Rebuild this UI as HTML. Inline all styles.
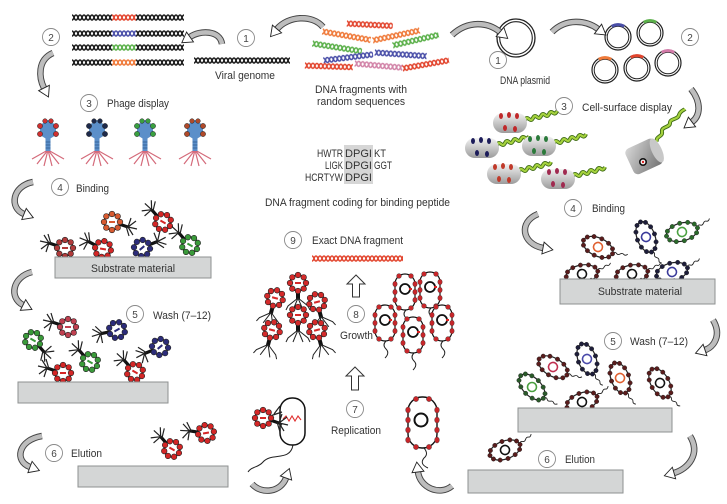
<!DOCTYPE html>
<html><head><meta charset="utf-8"><style>
html,body{margin:0;padding:0;background:#fff;}
svg{display:block;}
text{font-family:"Liberation Sans",sans-serif;fill:#333;}
.t{font-size:11px;}
.nc{fill:#fff;stroke:#8a8a8a;stroke-width:0.9;}
.nt{font-size:10px;text-anchor:middle;fill:#444;}
.ao{fill:none;stroke:#444;stroke-width:6.5;}
.ai{fill:none;stroke:#bdbdbd;stroke-width:4.6;}
.box{fill:#d4d6d6;stroke:#8e9090;stroke-width:1;}
</style></head><body>
<svg width="727" height="504" viewBox="0 0 727 504" xmlns="http://www.w3.org/2000/svg">
<defs>
<pattern id="hk" width="8" height="7" patternUnits="userSpaceOnUse"><path d="M0,1 C2.2,1 1.8,6 4,6 C6.2,6 5.8,1 8,1 M0,6 C2.2,6 1.8,1 4,1 C6.2,1 5.8,6 8,6" fill="none" stroke="#1a1a1a" stroke-width="1.6"/></pattern>
<pattern id="hr" width="8" height="7" patternUnits="userSpaceOnUse"><path d="M0,1 C2.2,1 1.8,6 4,6 C6.2,6 5.8,1 8,1 M0,6 C2.2,6 1.8,1 4,1 C6.2,1 5.8,6 8,6" fill="none" stroke="#e2452e" stroke-width="1.6"/></pattern>
<pattern id="hb" width="8" height="7" patternUnits="userSpaceOnUse"><path d="M0,1 C2.2,1 1.8,6 4,6 C6.2,6 5.8,1 8,1 M0,6 C2.2,6 1.8,1 4,1 C6.2,1 5.8,6 8,6" fill="none" stroke="#4a4fa8" stroke-width="1.6"/></pattern>
<pattern id="hg" width="8" height="7" patternUnits="userSpaceOnUse"><path d="M0,1 C2.2,1 1.8,6 4,6 C6.2,6 5.8,1 8,1 M0,6 C2.2,6 1.8,1 4,1 C6.2,1 5.8,6 8,6" fill="none" stroke="#5bb04a" stroke-width="1.6"/></pattern>
<pattern id="ho" width="8" height="7" patternUnits="userSpaceOnUse"><path d="M0,1 C2.2,1 1.8,6 4,6 C6.2,6 5.8,1 8,1 M0,6 C2.2,6 1.8,1 4,1 C6.2,1 5.8,6 8,6" fill="none" stroke="#ef7a3a" stroke-width="1.6"/></pattern>
<pattern id="hp" width="8" height="7" patternUnits="userSpaceOnUse"><path d="M0,1 C2.2,1 1.8,6 4,6 C6.2,6 5.8,1 8,1 M0,6 C2.2,6 1.8,1 4,1 C6.2,1 5.8,6 8,6" fill="none" stroke="#d284a8" stroke-width="1.6"/></pattern>
<linearGradient id="cg" x1="0" y1="0" x2="0" y2="1"><stop offset="0" stop-color="#f2f2f2"/><stop offset="1" stop-color="#9c9c9c"/></linearGradient>
<linearGradient id="cg2" x1="0" y1="0" x2="1" y2="1"><stop offset="0" stop-color="#d8d8d8"/><stop offset="1" stop-color="#707070"/></linearGradient>
<marker id="ah" markerWidth="14" markerHeight="14" refX="2" refY="7" orient="auto" markerUnits="userSpaceOnUse"><path d="M2,1 L12,7 L2,13 Z" fill="#fff" stroke="#222" stroke-width="0.9"/></marker>

<g id="pg">
 <path d="M-7,-2 L-16,-5" stroke="#111" stroke-width="3.2"/>
 <path d="M-16,-5 L-21,-13 M-14,-4 L-17,-14 M-16,-5 L-25,-7 M-16,-5 L-24,1 M-16,-5 L-19,4" stroke="#222" stroke-width="1.2" fill="none"/>
 <circle r="8" fill="#fff" stroke="#222" stroke-width="1.4"/>
 <g style="fill:currentColor" stroke="#222" stroke-width="0.6">
 <circle cx="8" cy="0" r="2.8"/><circle cx="5.7" cy="5.7" r="2.8"/><circle cx="0" cy="8" r="2.8"/><circle cx="-5.7" cy="5.7" r="2.8"/><circle cx="-8" cy="0" r="2.8"/><circle cx="-5.7" cy="-5.7" r="2.8"/><circle cx="0" cy="-8" r="2.8"/><circle cx="5.7" cy="-5.7" r="2.8"/>
 </g>
 <rect x="-3" y="-1" width="6" height="2" style="fill:currentColor"/>
</g>
<g id="pu">
 <rect x="-2" y="7" width="4" height="9" fill="#111"/>
 <path d="M0,15 L-10,23 L-12,27 M0,15 L-5,27 M0,15 L5,27 M0,15 L10,23 L12,27" stroke="#222" stroke-width="1" fill="none"/>
 <circle r="8" fill="#fff" stroke="#222" stroke-width="1.4"/>
 <g fill="#d42a2a" stroke="#222" stroke-width="0.6">
 <circle cx="8" cy="0" r="2.8"/><circle cx="5.7" cy="5.7" r="2.8"/><circle cx="0" cy="8" r="2.8"/><circle cx="-5.7" cy="5.7" r="2.8"/><circle cx="-8" cy="0" r="2.8"/><circle cx="-5.7" cy="-5.7" r="2.8"/><circle cx="0" cy="-8" r="2.8"/><circle cx="5.7" cy="-5.7" r="2.8"/>
 </g>
 <rect x="-3" y="-1" width="6" height="2" fill="#d42a2a"/>
</g>
<g id="pd">
 <path d="M0,20 L-16,29 M0,20 L-11,34 M0,20 L-4,36 M0,20 L4,36 M0,20 L11,34 M0,20 L16,29" stroke="#d46a7a" stroke-width="1.2" fill="none"/>
 <rect x="-2.5" y="8" width="5" height="13" fill="#5b8fc9"/>
 <path d="M-2.5,12 h5 M-2.5,15 h5 M-2.5,18 h5" stroke="#2d5a8a" stroke-width="0.7"/>
 <polygon points="0,-10 8,-5 8,5 0,10 -8,5 -8,-5" fill="#5b8fc9"/>
 <g style="fill:currentColor" stroke="#222" stroke-width="0.5">
 <circle cx="-8" cy="-4" r="2.6"/><circle cx="8" cy="-4" r="2.6"/><circle cx="-8" cy="4" r="2.6"/><circle cx="8" cy="4" r="2.6"/><circle cx="-3" cy="-9" r="2.3"/><circle cx="3" cy="-9" r="2.3"/>
 </g>
</g>
<g id="bc">
 <path d="M16,-1 c3,-4 4,2 7,-2 c3,-4 4,2 7,-3" fill="none" stroke="#222" stroke-width="0.9"/>
 <ellipse rx="16" ry="9" fill="#fff" stroke="#222" stroke-width="1.2"/>
 <g style="fill:var(--d,#5a1c1c)" stroke="#222" stroke-width="0.4">
 <circle cx="16" cy="0" r="2.2"/><circle cx="13.9" cy="4.5" r="2.2"/><circle cx="8" cy="7.8" r="2.2"/><circle cx="0" cy="9" r="2.2"/><circle cx="-8" cy="7.8" r="2.2"/><circle cx="-13.9" cy="4.5" r="2.2"/><circle cx="-16" cy="0" r="2.2"/><circle cx="-13.9" cy="-4.5" r="2.2"/><circle cx="-8" cy="-7.8" r="2.2"/><circle cx="0" cy="-9" r="2.2"/><circle cx="8" cy="-7.8" r="2.2"/><circle cx="13.9" cy="-4.5" r="2.2"/>
 </g>
 <circle r="4.5" fill="none" style="stroke:currentColor" stroke-width="1.6"/>
</g>
<g id="bv">
 <path d="M1,18 q-4,4 0,8 q4,4 -1,9" stroke="#222" fill="none" stroke-width="1"/>
 <rect x="-10" y="-18" width="20" height="36" rx="10" fill="#fff" stroke="#111" stroke-width="1.2"/>
 <g fill="#c8262a" stroke="#333" stroke-width="0.4">
 <ellipse cx="-10" cy="-8" rx="2.2" ry="2.8"/><ellipse cx="-10" cy="0" rx="2.2" ry="2.8"/><ellipse cx="-10" cy="8" rx="2.2" ry="2.8"/><ellipse cx="10" cy="-8" rx="2.2" ry="2.8"/><ellipse cx="10" cy="0" rx="2.2" ry="2.8"/><ellipse cx="10" cy="8" rx="2.2" ry="2.8"/><circle cx="-6" cy="-16" r="2.4"/><circle cx="6" cy="-16" r="2.4"/><circle cx="-6" cy="16" r="2.4"/><circle cx="6" cy="16" r="2.4"/>
 </g>
 <circle cy="-3" r="5" fill="none" stroke="#111" stroke-width="1.8"/>
 <rect x="4" y="-4" width="3" height="2" fill="#d22"/>
</g>
<g id="cs">
 <path d="M15,-3 c3,-6 5,4 8,-2 c3,-6 5,4 8,-2 c3,-6 5,4 8,-2 c3,-6 5,4 8,-3" fill="none" stroke="#3d6a14" stroke-width="4"/>
 <path d="M15,-3 c3,-6 5,4 8,-2 c3,-6 5,4 8,-2 c3,-6 5,4 8,-2 c3,-6 5,4 8,-3" fill="none" stroke="#a5d23e" stroke-width="2.2"/>
 <rect x="-17" y="-10" width="34" height="20" rx="10" fill="url(#cg)"/>
 <g style="fill:currentColor">
 <ellipse cx="-9" cy="-7" rx="2" ry="3"/><ellipse cx="-1" cy="-8" rx="2" ry="3"/><ellipse cx="7" cy="-7" rx="2" ry="3"/><ellipse cx="-5" cy="5" rx="2" ry="3"/><ellipse cx="5" cy="6" rx="2" ry="3"/>
 </g>
</g>
</defs>

<g transform="translate(72,14)"><rect width="40" height="7" fill="url(#hk)"/><rect x="40" width="24" height="7" fill="url(#hr)"/><rect x="64" width="48" height="7" fill="url(#hk)"/></g>
<g transform="translate(72,30)"><rect width="40" height="7" fill="url(#hk)"/><rect x="40" width="24" height="7" fill="url(#hb)"/><rect x="64" width="48" height="7" fill="url(#hk)"/></g>
<g transform="translate(72,44)"><rect width="40" height="7" fill="url(#hk)"/><rect x="40" width="24" height="7" fill="url(#hg)"/><rect x="64" width="48" height="7" fill="url(#hk)"/></g>
<g transform="translate(72,59)"><rect width="40" height="7" fill="url(#hk)"/><rect x="40" width="24" height="7" fill="url(#ho)"/><rect x="64" width="48" height="7" fill="url(#hk)"/></g>

<g transform="translate(194,57)"><rect width="96" height="7" fill="url(#hk)"/></g>
<text class="t" x="215" y="79" textLength="60" lengthAdjust="spacingAndGlyphs">Viral genome</text>

<g transform="translate(347,20) rotate(3)"><rect width="46" height="7" fill="url(#hr)"/></g>
<g transform="translate(323,28) rotate(10)"><rect width="49" height="7" fill="url(#ho)"/></g>
<g transform="translate(372,37) rotate(-12)"><rect width="48" height="7" fill="url(#ho)"/></g>
<g transform="translate(313,40) rotate(9)"><rect width="50" height="7" fill="url(#hg)"/></g>
<g transform="translate(392,42) rotate(-13)"><rect width="47" height="7" fill="url(#hg)"/></g>
<g transform="translate(323,57) rotate(-7)"><rect width="50" height="7" fill="url(#hb)"/></g>
<g transform="translate(375,49) rotate(4)"><rect width="52" height="7" fill="url(#hb)"/></g>
<g transform="translate(305,62) rotate(2)"><rect width="48" height="7" fill="url(#hr)"/></g>
<g transform="translate(355,60) rotate(5)"><rect width="48" height="7" fill="url(#hp)"/></g>
<g transform="translate(402,65) rotate(-10)"><rect width="47" height="7" fill="url(#hr)"/></g>
<text class="t" x="315" y="93" textLength="92" lengthAdjust="spacingAndGlyphs">DNA fragments with</text>
<text class="t" x="317" y="105" textLength="88" lengthAdjust="spacingAndGlyphs">random sequences</text>

<circle cx="516" cy="38" r="19" fill="none" stroke="#222" stroke-width="1.3"/>
<circle cx="516" cy="38" r="16.3" fill="none" stroke="#222" stroke-width="1.1"/>
<text class="t" x="500" y="84" textLength="50" lengthAdjust="spacingAndGlyphs">DNA plasmid</text>
<g fill="none" stroke="#222">
<circle cx="618" cy="37" r="13" stroke-width="1.2"/><circle cx="618" cy="37" r="10.8"/>
<circle cx="650" cy="33" r="13" stroke-width="1.2"/><circle cx="650" cy="33" r="10.8"/>
<circle cx="605" cy="70" r="13" stroke-width="1.2"/><circle cx="605" cy="70" r="10.8"/>
<circle cx="637" cy="68" r="13" stroke-width="1.2"/><circle cx="637" cy="68" r="10.8"/>
<circle cx="668" cy="63" r="13" stroke-width="1.2"/><circle cx="668" cy="63" r="10.8"/>
</g>
<g fill="none" stroke-width="3">
<path d="M611.8,26.3 A12,12 0 0 1 624.2,26.3" stroke="#4a4fa8"/>
<path d="M643.8,22.3 A12,12 0 0 1 656.2,22.3" stroke="#5bb04a"/>
<path d="M598.8,59.3 A12,12 0 0 1 611.2,59.3" stroke="#ef7a3a"/>
<path d="M630.8,57.3 A12,12 0 0 1 643.2,57.3" stroke="#e2452e"/>
<path d="M661.8,52.3 A12,12 0 0 1 674.2,52.3" stroke="#d27aa8"/>
</g>

<g>
<path class="ao" d="M323,27 C312,14 288,16 277,29"/><path class="ai" d="M323,27 C312,14 288,16 277,29" marker-end="url(#ah)"/>
<path class="ao" d="M222,44 C220,30 200,30 190,37"/><path class="ai" d="M222,44 C220,30 200,30 190,37" marker-end="url(#ah)"/>
<path class="ao" d="M53,53 C37,60 39,78 44,88"/><path class="ai" d="M53,53 C37,60 39,78 44,88" marker-end="url(#ah)"/>
<path class="ao" d="M452,35 C468,20 488,22 500,32"/><path class="ai" d="M452,35 C468,20 488,22 500,32" marker-end="url(#ah)"/>
<path class="ao" d="M552,32 C566,18 586,20 598,29"/><path class="ai" d="M552,32 C566,18 586,20 598,29" marker-end="url(#ah)"/>
<path class="ao" d="M691,89 C702,103 700,116 692,122"/><path class="ai" d="M691,89 C702,103 700,116 692,122" marker-end="url(#ah)"/>
<path class="ao" d="M33,182 C12,186 9,208 24,214"/><path class="ai" d="M33,182 C12,186 9,208 24,214" marker-end="url(#ah)"/>
<path class="ao" d="M32,272 C12,277 9,298 23,305"/><path class="ai" d="M32,272 C12,277 9,298 23,305" marker-end="url(#ah)"/>
<path class="ao" d="M42,436 C18,440 14,461 30,467"/><path class="ai" d="M42,436 C18,440 14,461 30,467" marker-end="url(#ah)"/>
<path class="ao" d="M538,214 C518,222 522,244 543,248"/><path class="ai" d="M538,214 C518,222 522,244 543,248" marker-end="url(#ah)"/>
<path class="ao" d="M713,320 C722,335 714,347 705,350"/><path class="ai" d="M713,320 C722,335 714,347 705,350" marker-end="url(#ah)"/>
<path class="ao" d="M690,436 C701,454 688,469 674,473"/><path class="ai" d="M690,436 C701,454 688,469 674,473" marker-end="url(#ah)"/>
<path class="ao" d="M252,484 C262,495 281,492 286,478"/><path class="ai" d="M252,484 C262,495 281,492 286,478" marker-end="url(#ah)"/>
<path class="ao" d="M452,486 C440,496 420,488 418,472"/><path class="ai" d="M452,486 C440,496 420,488 418,472" marker-end="url(#ah)"/>
</g>
<polygon points="356,275 347,284 352.5,284 352.5,297 359.5,297 359.5,284 365,284" fill="#fff" stroke="#333" stroke-width="1"/>
<polygon points="355,367 346,376 351.5,376 351.5,390 358.5,390 358.5,376 364,376" fill="#fff" stroke="#333" stroke-width="1"/>

<g>
<circle class="nc" cx="51" cy="37" r="8.5"/><text class="nt" x="51" y="41">2</text>
<circle class="nc" cx="246" cy="38" r="8.5"/><text class="nt" x="246" y="42">1</text>
<circle class="nc" cx="498" cy="60" r="8.5"/><text class="nt" x="498" y="64">1</text>
<circle class="nc" cx="690" cy="37" r="8.5"/><text class="nt" x="690" y="41">2</text>
<circle class="nc" cx="89" cy="103" r="8.5"/><text class="nt" x="89" y="107">3</text>
<circle class="nc" cx="564" cy="106" r="8.5"/><text class="nt" x="564" y="110">3</text>
<circle class="nc" cx="60" cy="187" r="8.5"/><text class="nt" x="60" y="191">4</text>
<circle class="nc" cx="573" cy="208" r="8.5"/><text class="nt" x="573" y="212">4</text>
<circle class="nc" cx="135" cy="314" r="8.5"/><text class="nt" x="135" y="318">5</text>
<circle class="nc" cx="613" cy="341" r="8.5"/><text class="nt" x="613" y="345">5</text>
<circle class="nc" cx="54" cy="453" r="8.5"/><text class="nt" x="54" y="457">6</text>
<circle class="nc" cx="547" cy="459" r="8.5"/><text class="nt" x="547" y="463">6</text>
<circle class="nc" cx="355" cy="409" r="8.5"/><text class="nt" x="355" y="413">7</text>
<circle class="nc" cx="356" cy="314" r="8.5"/><text class="nt" x="356" y="318">8</text>
<circle class="nc" cx="293" cy="240" r="8.5"/><text class="nt" x="293" y="244">9</text>
</g>

<text class="t" x="107" y="107" textLength="62" lengthAdjust="spacingAndGlyphs">Phage display</text>
<text class="t" x="582" y="111" textLength="90" lengthAdjust="spacingAndGlyphs">Cell-surface display</text>
<text class="t" x="76" y="192" textLength="33" lengthAdjust="spacingAndGlyphs">Binding</text>
<text class="t" x="592" y="212" textLength="33" lengthAdjust="spacingAndGlyphs">Binding</text>
<text class="t" x="153" y="319" textLength="58" lengthAdjust="spacingAndGlyphs">Wash (7–12)</text>
<text class="t" x="630" y="345" textLength="58" lengthAdjust="spacingAndGlyphs">Wash (7–12)</text>
<text class="t" x="71" y="457" textLength="31" lengthAdjust="spacingAndGlyphs">Elution</text>
<text class="t" x="565" y="463" textLength="30" lengthAdjust="spacingAndGlyphs">Elution</text>
<text class="t" x="340" y="339" textLength="33" lengthAdjust="spacingAndGlyphs">Growth</text>
<text class="t" x="331" y="434" textLength="50" lengthAdjust="spacingAndGlyphs">Replication</text>
<text class="t" x="312" y="244" textLength="91" lengthAdjust="spacingAndGlyphs">Exact DNA fragment</text>
<text class="t" x="265" y="206" textLength="185" lengthAdjust="spacingAndGlyphs">DNA fragment coding for binding peptide</text>

<rect x="344" y="145" width="29" height="39" fill="#d6d6d6"/>
<text class="t" x="317" y="157" textLength="26" lengthAdjust="spacingAndGlyphs">HWTR</text>
<text class="t" x="345" y="157" textLength="27" lengthAdjust="spacingAndGlyphs">DPGI</text>
<text class="t" x="374" y="157" textLength="12" lengthAdjust="spacingAndGlyphs">KT</text>
<text class="t" x="325" y="169" textLength="18" lengthAdjust="spacingAndGlyphs">LIGK</text>
<text class="t" x="345" y="169" textLength="27" lengthAdjust="spacingAndGlyphs">DPGI</text>
<text class="t" x="374" y="169" textLength="18" lengthAdjust="spacingAndGlyphs">GGT</text>
<text class="t" x="305" y="181" textLength="38" lengthAdjust="spacingAndGlyphs">HCRTYW</text>
<text class="t" x="345" y="181" textLength="27" lengthAdjust="spacingAndGlyphs">DPGI</text>

<g transform="translate(312,255)"><rect width="91" height="7" fill="url(#hr)"/></g>

<use href="#pd" transform="translate(48,130)" style="color:#d03030"/>
<use href="#pd" transform="translate(97,130)" style="color:#1e2a4a"/>
<use href="#pd" transform="translate(145,130)" style="color:#3aa040"/>
<use href="#pd" transform="translate(195,130)" style="color:#b04a2a"/>

<use href="#pg" transform="translate(65,248)" style="color:#b03a3a"/>
<use href="#pg" transform="translate(112,222) rotate(180)" style="color:#d85a30"/>
<use href="#pg" transform="translate(103,249) rotate(10)" style="color:#d42626"/>
<use href="#pg" transform="translate(142,248) rotate(140)" style="color:#2c2c7a"/>
<use href="#pg" transform="translate(163,222) rotate(30)" style="color:#d42626"/>
<use href="#pg" transform="translate(190,245) rotate(30)" style="color:#3a9a3a"/>
<rect class="box" x="55" y="257" width="156" height="21"/>
<text class="t" x="91" y="272" textLength="84" lengthAdjust="spacingAndGlyphs">Substrate material</text>

<use href="#pg" transform="translate(33,340) rotate(-150)" style="color:#3a9a3a"/>
<use href="#pg" transform="translate(68,327)" style="color:#c04050"/>
<use href="#pg" transform="translate(117,330) rotate(-30)" style="color:#2c2c7a"/>
<use href="#pg" transform="translate(90,362) rotate(30)" style="color:#3a9a3a"/>
<use href="#pg" transform="translate(63,373)" style="color:#d42626"/>
<use href="#pg" transform="translate(135,372) rotate(30)" style="color:#d42626"/>
<use href="#pg" transform="translate(160,347) rotate(-40)" style="color:#2c2c7a"/>
<rect class="box" x="18" y="382" width="150" height="21"/>

<use href="#pg" transform="translate(172,449) rotate(30)" style="color:#d42626"/>
<use href="#pg" transform="translate(206,433) rotate(-10)" style="color:#d42626"/>
<rect class="box" x="78" y="466" width="150" height="21"/>

<use href="#pu" transform="translate(298,283)"/>
<use href="#pu" transform="translate(275,298) rotate(15)"/>
<use href="#pu" transform="translate(317,302) rotate(-15)"/>
<use href="#pu" transform="translate(298,315)"/>
<use href="#pu" transform="translate(272,330) rotate(15)"/>
<use href="#pu" transform="translate(317,330) rotate(-15)"/>

<use href="#bv" transform="translate(405,292)"/>
<use href="#bv" transform="translate(430,290)"/>
<use href="#bv" transform="translate(385,323)"/>
<use href="#bv" transform="translate(442,323)"/>
<use href="#bv" transform="translate(413,335)"/>

<path d="M293,445 C290,462 272,452 263,462 C258,468 252,466 248,472" fill="none" stroke="#222" stroke-width="1"/>
<rect x="280" y="398" width="25" height="47" rx="12" fill="#fff" stroke="#111" stroke-width="1.5"/>
<path d="M270,416 L282,412 M271,421 L282,425 M274,414 L280,406" stroke="#222" stroke-width="1.2"/>
<path d="M283,419 l3,-3 l3,5 l3,-5 l3,5 l3,-5 l3,4" fill="none" stroke="#e03030" stroke-width="1.1"/>
<use href="#pg" transform="translate(263,418) rotate(180)" style="color:#d42626"/>

<path d="M424,448 q5,6 0,10 q-5,6 4,10" fill="none" stroke="#222" stroke-width="1"/>
<rect x="408" y="397" width="29" height="51" rx="14" fill="#fff" stroke="#111" stroke-width="1.4"/>
<g fill="#c8262a" stroke="#333" stroke-width="0.4">
<ellipse cx="408" cy="410" rx="2.4" ry="3"/><ellipse cx="408" cy="420" rx="2.4" ry="3"/><ellipse cx="408" cy="430" rx="2.4" ry="3"/><ellipse cx="408" cy="440" rx="2.4" ry="3"/>
<ellipse cx="437" cy="410" rx="2.4" ry="3"/><ellipse cx="437" cy="420" rx="2.4" ry="3"/><ellipse cx="437" cy="430" rx="2.4" ry="3"/><ellipse cx="437" cy="440" rx="2.4" ry="3"/>
<circle cx="416" cy="399" r="2.6"/><circle cx="429" cy="399" r="2.6"/><circle cx="416" cy="447" r="2.6"/><circle cx="429" cy="447" r="2.6"/>
</g>
<circle cx="421" cy="420" r="6.5" fill="none" stroke="#111" stroke-width="2"/>

<use href="#cs" transform="translate(510,123)" style="color:#c0282a"/>
<use href="#cs" transform="translate(482,148)" style="color:#1c1c5a"/>
<use href="#cs" transform="translate(539,146)" style="color:#2a7a3a"/>
<use href="#cs" transform="translate(504,174)" style="color:#c03a2a"/>
<use href="#cs" transform="translate(558,179)" style="color:#a02a50"/>
<path d="M657,142 c-2,-6 6,-5 5,-10 c-1,-6 8,-4 8,-9 c0,-5 8,-3 9,-8 c1,-4 5,-5 6,-6" fill="none" stroke="#3d6a14" stroke-width="4"/>
<path d="M657,142 c-2,-6 6,-5 5,-10 c-1,-6 8,-4 8,-9 c0,-5 8,-3 9,-8 c1,-4 5,-5 6,-6" fill="none" stroke="#a5d23e" stroke-width="2.2"/>
<g transform="translate(645,156) rotate(-25)">
<rect x="-17" y="-14" width="32" height="28" rx="5" fill="url(#cg2)"/>
<ellipse cx="13" cy="0" rx="5" ry="13" fill="#c8c8c8"/>
</g>
<circle cx="643" cy="162" r="3.2" fill="#fff" stroke="#111" stroke-width="1.6"/>
<circle cx="643" cy="162" r="1.2" fill="#d22"/>

<use href="#bc" transform="translate(598,247) rotate(25)" style="color:#e06030"/>
<use href="#bc" transform="translate(646,237) rotate(70)" style="color:#3a3a9a;--d:#1e1e3a"/>
<use href="#bc" transform="translate(682,232) rotate(-15)" style="color:#4aa040;--d:#2a6a2a"/>
<use href="#bc" transform="translate(582,274) rotate(-10)" style="color:#111"/>
<use href="#bc" transform="translate(632,274) rotate(-10)" style="color:#111"/>
<use href="#bc" transform="translate(672,272) rotate(-15)" style="color:#3a3a9a;--d:#1e1e3a"/>
<rect class="box" x="560" y="279" width="155" height="25"/>
<text class="t" x="598" y="295" textLength="84" lengthAdjust="spacingAndGlyphs">Substrate material</text>

<use href="#bc" transform="translate(532,387) rotate(45)" style="color:#4aa040;--d:#2a5a2a"/>
<use href="#bc" transform="translate(553,367) rotate(30)" style="color:#c03050"/>
<use href="#bc" transform="translate(587,359) rotate(70)" style="color:#4a4aaa;--d:#1e1e3a"/>
<use href="#bc" transform="translate(620,378) rotate(70)" style="color:#e06030"/>
<use href="#bc" transform="translate(660,383) rotate(60)" style="color:#111"/>
<use href="#bc" transform="translate(582,402) rotate(-20)" style="color:#111"/>
<rect class="box" x="518" y="408" width="154" height="24"/>

<use href="#bc" transform="translate(505,450) rotate(-20)" style="color:#111"/>
<rect class="box" x="468" y="470" width="155" height="23"/>
</svg>
</body></html>
